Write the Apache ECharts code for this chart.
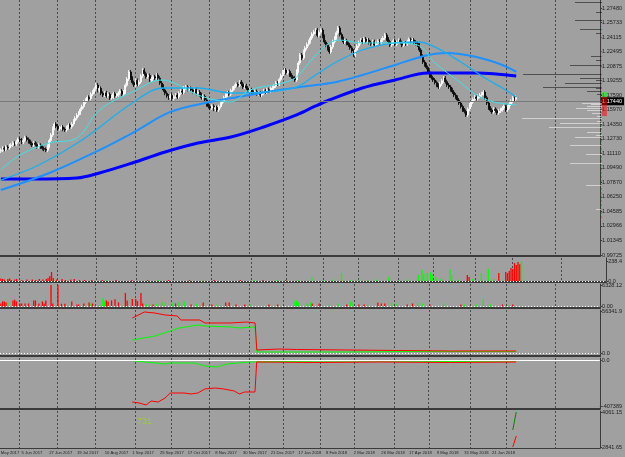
<!DOCTYPE html>
<html><head><meta charset="utf-8">
<script src="https://cdn.jsdelivr.net/npm/echarts@6/dist/echarts.min.js"></script>
<style>html,body{margin:0;padding:0;background:#a0a0a0;}#c{width:625px;height:457px;}</style>
</head><body><div id="c"></div><script>
// ---------------- DATA ----------------
const totalSlots = 347;               // bars + empty chart shift on the right
const firstOpen = 1.1140;
const closes = [
1.1150,1.1172,1.1160,1.1185,1.1178,1.1199,1.1208,
1.1230,1.1218,1.1245,1.1272,1.1265,
1.1240,1.1262,1.1290,
1.1270,1.1245,1.1226,1.1208,
1.1230,1.1215,1.1190,1.1205,1.1186,
1.1170,1.1160,1.1150,
1.1195,1.1260,1.1321,
1.1395,1.1444,
1.1420,1.1390,1.1400,
1.1410,1.1385,1.1377,
1.1405,1.1430,1.1412,1.1444,
1.1480,1.1510,1.1545,1.1568,
1.1610,1.1640,1.1690,1.1714,
1.1745,1.1730,1.1780,1.1804,
1.1840,1.1883,
1.1820,1.1845,1.1790,1.1770,
1.1795,1.1760,1.1778,1.1737,
1.1750,1.1785,1.1762,1.1770,
1.1790,1.1815,1.1780,1.1804,
1.1880,1.1950,1.2029,
1.1960,1.1910,1.1883,
1.1935,1.1890,1.1917,
1.1985,1.2051,
1.2010,1.1975,1.1990,1.1939,
1.1950,1.1975,1.1961,
1.1995,
1.1960,1.1905,1.1870,1.1827,
1.1790,1.1760,1.1737,
1.1765,1.1730,1.1752,1.1770,1.1748,
1.1790,1.1815,1.1800,1.1849,
1.1860,1.1835,1.1845,1.1827,
1.1810,1.1835,1.1790,1.1804,
1.1775,1.1740,1.1755,1.1714,
1.1660,1.1640,1.1624,
1.1645,1.1610,1.1630,1.1602,
1.1640,1.1669,
1.1705,1.1740,1.1770,
1.1795,1.1780,1.1820,1.1849,
1.1870,1.1890,1.1880,1.1917,
1.1895,1.1860,1.1875,1.1849,
1.1815,1.1830,1.1800,1.1793,
1.1810,1.1785,1.1795,1.1770,
1.1790,1.1818,1.1804,
1.1830,1.1815,1.1840,1.1849,
1.1870,1.1905,1.1894,
1.1945,1.1990,1.2030,1.2051,
1.2020,1.2035,1.1995,
1.1975,1.1960,1.1939,
1.2040,1.2130,1.2220,
1.2185,1.2260,1.2299,
1.2340,1.2370,1.2411,
1.2455,1.2480,1.2501,
1.2440,1.2475,1.2501,
1.2430,1.2366,
1.2330,1.2290,1.2254,
1.2310,1.2370,1.2411,
1.2470,1.2524,
1.2450,1.2405,1.2366,
1.2380,1.2350,1.2332,
1.2300,1.2265,1.2220,
1.2275,1.2320,1.2360,1.2389,
1.2365,1.2400,1.2375,1.2389,
1.2360,1.2345,1.2370,1.2332,
1.2350,1.2375,1.2360,1.2389,
1.2410,1.2445,
1.2400,1.2370,1.2332,
1.2350,1.2380,1.2340,1.2366,
1.2385,1.2360,1.2330,1.2355,1.2344,
1.2370,1.2395,1.2375,1.2389,
1.2365,1.2350,1.2332,
1.2275,1.2205,1.2141,
1.2110,1.2080,1.2029,
1.1990,1.1965,1.1939,
1.1910,1.1880,1.1860,
1.1895,1.1930,1.1962,
1.1920,1.1883,
1.1860,1.1830,1.1804,
1.1770,1.1745,1.1714,
1.1680,1.1640,1.1602,
1.1585,1.1546,
1.1610,1.1658,
1.1690,1.1720,1.1748,
1.1730,1.1755,1.1770,
1.1785,1.1804,
1.1740,1.1680,1.1624,
1.1600,1.1580,
1.1610,1.1595,1.1568,
1.1590,1.1605,1.1624,
1.1640,1.1602,
1.1635,1.1669,
1.1700,1.1737,
1.1720,1.1744
];
const wickSize = 0.0022;

// moving averages: [bar, price]
const maFast = [[0,1.0928],[11,1.1096],[28,1.1231],[44,1.1287],[57,1.1602],[76,1.1804],[93,1.1939],[114,1.1770],[124,1.1714],[133,1.1692],[144,1.1827],[163,1.1905],[171,1.1973],[181,1.2197],[190,1.2355],[196,1.2388],[209,1.2355],[228,1.2355],[241,1.2332],[251,1.2130],[266,1.1905],[275,1.1770],[285,1.1692],[298,1.1658]];
const maMid = [[0,1.0815],[22,1.0984],[47,1.1265],[76,1.1681],[94,1.1849],[114,1.1849],[133,1.1793],[152,1.1804],[171,1.1860],[182,1.1995],[194,1.2141],[209,1.2276],[228,1.2355],[242,1.2366],[252,1.2299],[266,1.2141],[280,1.1961],[290,1.1849],[298,1.1748]];
const maSlow = [[0,1.0703],[28,1.0894],[57,1.1152],[76,1.1343],[98,1.1580],[118,1.1681],[137,1.1748],[161,1.1827],[182,1.1883],[194,1.1917],[209,1.1995],[228,1.2108],[247,1.2220],[258,1.2242],[275,1.2197],[290,1.2108],[298,1.2029]];
const maLong = [[0,1.0826],[19,1.0826],[44,1.0838],[57,1.0894],[76,1.1006],[95,1.1130],[114,1.1231],[133,1.1298],[152,1.1411],[171,1.1546],[182,1.1647],[190,1.1714],[209,1.1849],[228,1.1939],[247,1.2018],[275,1.2018],[298,1.1984]];

// price axis tick labels (bottom -> top)
const priceTickLabels = ["0.99725","1.01345","1.02966","1.04585","1.06250","1.07870","1.09490","1.11110","1.12730","1.14350","1.15970","1.17590","1.19255","1.20875","1.22495","1.24115","1.25733","1.27480"];
const priceTickBottom = 0.99725, priceTickTop = 1.27480;

// date labels every 16 bars starting at bar 12
const firstDateLabel = "12 May 2017";
const dateLabels = ["5 Jun 2017","27 Jun 2017","19 Jul 2017","10 Aug 2017","1 Sep 2017","25 Sep 2017","17 Oct 2017","8 Nov 2017","30 Nov 2017","21 Dec 2017","17 Jan 2018","8 Feb 2018","2 Mar 2018","26 Mar 2018","17 Apr 2018","9 May 2018","31 May 2018","21 Jun 2018"];
const dateLabelStart = 12, dateLabelStep = 16;
const monthStartBars = [11,33,55,78,99,121,144,164,185,205,228,248,272,293,321];

// volume profile (price level, volume)
const profPrices = [1.2815,1.2703,1.2613,1.2512,1.2467,1.2209,1.2164,1.2108,1.2006,1.1961,1.1939,1.1905,1.1860,1.1849,1.1815,1.1782,
                    1.1681,1.1670,1.1647,1.1624,1.1602,1.1568,1.1534,1.1512,1.1478,1.1456,1.1411,1.1355,1.1321,1.1298,1.1209,1.1107,1.1006,1.0759,1.0489];
const profVolumes = [27,6,27,22,6,11,6,32,79,22,6,37,59,6,15,5,
                     20,11,15,26,15,10,5,80,5,42,53,15,6,27,32,16,32,16,6];
const bookBuy = [1.1804,1.1748], bookSell = [1.1748,1.1534];
const askRange = [1.2557,1.1804], bidRange = [1.1714,1.0366];

// pane 2 histogram
const p2Red = [[0,30],[1,24],[2,18],[4,24],[5,30],[6,12],[8,18],[9,24],[12,12],[15,18],[18,18],[20,12],[22,24],[24,18],[26,24],[27,36],[28,60],[29,107],[30,36],[32,18],[35,24],[37,12],[40,18],[42,24],[45,12],[48,12],[52,12],[58,12],[66,12],[75,12],[84,12],[96,12],[108,12],[122,12],[137,12],[150,12],[163,12],[267,71],[268,48],[285,95],[289,107],[290,95],[291,119],[292,155],[293,143],[294,214],[295,190],[296,226],[297,200]];
const p2Green = [[60,12],[90,12],[116,12],[145,12],[158,12],[170,12],[178,48],[185,12],[190,18],[195,95],[200,12],[205,18],[210,12],[215,18],[222,48],[228,12],[233,18],[239,71],[241,131],[242,83],[244,95],[246,107],[247,71],[249,48],[252,24],[257,143],[258,71],[262,18],[270,24],[275,95],[279,143],[282,24],[298,238.4]];
// pane 3 histogram
const p3Red = [[0,900],[1,1500],[2,1500],[3,1200],[7,1800],[8,2000],[9,1500],[11,900],[12,900],[14,900],[16,900],[19,1800],[20,1800],[22,900],[24,1500],[25,900],[26,1800],[29,6328],[30,900],[33,6328],[35,800],[37,800],[41,1500],[44,600],[45,600],[48,900],[51,1200],[53,900],[61,1800],[62,1500],[64,1800],[66,2100],[68,1200],[72,4000],[73,1800],[76,2200],[78,2200],[79,1600],[81,4000],[82,900],[88,600],[101,900],[110,600],[117,1200],[122,600],[130,1200],[132,1200],[136,600],[141,600],[155,600],[160,600],[180,900],[184,900],[200,600],[207,600],[210,600],[218,1200],[220,900],[222,900],[235,600],[238,900],[248,600],[266,600],[290,600],[296,600]];
const p3Green = [[4,1200],[52,900],[57,500],[59,2500],[60,1500],[84,700],[86,600],[90,900],[93,1500],[95,1200],[99,1200],[103,1200],[106,1500],[113,900],[125,600],[144,600],[170,1500],[171,1800],[172,1200],[177,900],[179,1200],[190,600],[195,900],[202,1500],[203,1200],[212,600],[226,1200],[229,900],[241,1200],[244,900],[256,900],[268,600],[275,600],[279,2200],[283,600],[293,600]];
// pane 4 lines
const p4Red = [[76,46950],[83,55000],[89,53660],[95,50980],[102,49640],[104,44270],[115,44270],[118,40250],[133,40250],[142,41590],[147,40250],[148,4025],[161,5366],[171,4695],[200,4025],[230,3354],[260,2683],[298,2683]];
const p4Green = [[76,17440],[89,22800],[98,29510],[103,33540],[114,37560],[118,36220],[133,34880],[138,33540],[147,34880],[148,1341],[200,1341],[240,2012],[298,2012]];
// pane 5 lines
const p5Green = [[76,-6200],[95,-35420],[98,-26570],[112,-26570],[118,-53140],[125,-61990],[131,-35420],[137,-26570],[144,-17710],[148,-17710],[183,-8856],[220,-8856],[260,-13280],[298,-8856]];
const p5Red = [[76,-371950],[80,-380800],[84,-398500],[87,-363100],[91,-371950],[95,-336500],[98,-292250],[106,-292250],[110,-301100],[114,-292250],[118,-256800],[124,-248000],[129,-256800],[135,-274500],[138,-301100],[141,-283400],[147,-283400],[148,-17710],[183,-22140],[220,-17710],[260,-22140],[298,-17710]];
const p5Pink = [[160,-4400],[200,-6600],[240,-4400],[298,-6600]];
// pane 6
const p6Green = [[296,3434],[298,4061.15]];
const p6Red = [[296,2841.65],[298,3225]];
const p6Text = "731";

// pane axis labels
const paneTicks = [
  {values:[0,238.4], labels:["0.0","238.4"]},
  {values:[0,6328.12], labels:["0.00","6328.12"]},
  {values:[0,56341.9], labels:["0.0","56341.9"]},
  {values:[-407389,0], labels:["-407389","0.0"]},
  {values:[2841.65,4061.15], labels:["2841.65","4061.15"]}
];

// ---------------- CHART ----------------
const FONT = 'Liberation Sans';
const cats = Array.from({length: totalSlots}, (_, i) => i);
const ohlc = closes.map((c, i) => {
  const o = i ? closes[i-1] : firstOpen;
  return [o, c, Math.min(o, c) - wickSize, Math.max(o, c) + wickSize];
});
const bid = closes[closes.length - 1];
const priceTickValues = priceTickLabels.map((_, k) => priceTickBottom + k * (priceTickTop - priceTickBottom) / (priceTickLabels.length - 1));

const gridsPx = [
  {top:0, height:256},
  {top:258, height:24},
  {top:284, height:24},
  {top:310, height:46},
  {top:358, height:51},
  {top:411, height:37}
];
const yRanges = [
  [0.99612, 1.28379],
  [-11.92, 274.2],
  [-441, 6622],
  [-4024, 57683],
  [-433957, 17712],
  [2806.8, 4096]
];
const grid = gridsPx.map(g => ({left:0, right:18, top:g.top, height:g.height}));
grid.push({left:0, right:18, top:0, height:256});

const xAxis = gridsPx.map((g, gi) => ({
  type:'category', gridIndex:gi, data:cats, boundaryGap:true,
  axisLine:{show:true, onZero:false, lineStyle:{color:'#3a3a3a', width: gi === 5 ? 1 : 2}},
  axisTick:{show:false},
  axisLabel: gi === 5 ? {
    show:true, interval:(i) => i >= dateLabelStart && (i - dateLabelStart) % dateLabelStep === 0 && (i - dateLabelStart) / dateLabelStep < dateLabels.length,
    formatter:(v, i) => dateLabels[(i - dateLabelStart) / dateLabelStep] || '',
    align:'left', fontSize:4.2, color:'#1e1e1e', margin:3, fontFamily:FONT
  } : {show:false},
  splitLine:{show:true, interval:(i) => monthStartBars.indexOf(i) >= 0, lineStyle:{color:'#4a4a4a', type:[2,2], width:1}}
}));
xAxis.push({type:'value', gridIndex:6, min:0, max:607, inverse:true, show:false});

const yAxis = yRanges.map((r, gi) => {
  const vals = gi === 0 ? priceTickValues : paneTicks[gi-1].values;
  const labs = gi === 0 ? priceTickLabels : paneTicks[gi-1].labels;
  return {
    type:'value', gridIndex:gi, position:'right', min:r[0], max:r[1], scale:true,
    axisLine:{show:true, lineStyle:{color:'#3a3a3a', width:1}},
    axisTick:{show:true, customValues:vals, length:2, lineStyle:{color:'#3a3a3a'}},
    axisLabel:{show:true, customValues:vals, fontSize:5.5, color:'#1e1e1e', margin:2, fontFamily:FONT,
      formatter:(v) => { let best = 0; vals.forEach((x, k) => { if (Math.abs(x - v) < Math.abs(vals[best] - v)) best = k; }); return labs[best]; }},
    splitLine:{show:false}
  };
});
yAxis.push({type:'value', gridIndex:6, min:yRanges[0][0], max:yRanges[0][1], show:false});

const maLine = (data, color, width, z) => ({type:'line', xAxisIndex:0, yAxisIndex:0, data, symbol:'none', smooth:0.35, lineStyle:{color, width}, z, silent:true});
const histo = (gi, data, color) => ({type:'bar', xAxisIndex:gi, yAxisIndex:gi, data, barWidth:1.3, barGap:'-100%', itemStyle:{color}, silent:true});
const pline = (gi, data, color, width) => ({type:'line', xAxisIndex:gi, yAxisIndex:gi, data, symbol:'none', lineStyle:{color, width:width||1}, silent:true});
const levelLine = (type) => ({silent:true, symbol:'none', label:{show:false}, lineStyle:{color:'#ffffff', type, width:1}, data:[{yAxis:0}]});

const profLines = profPrices.map((p, k) => ({coords:[[5, p], [5 + profVolumes[k], p]], lineStyle:{color: p > bid ? '#000000' : '#ffffff', width:1}}));
profLines.push({coords:[[2.5, bookBuy[0]], [2.5, bookBuy[1]]], lineStyle:{color:'#00ff00', width:5}});
profLines.push({coords:[[2.5, bookSell[0]], [2.5, bookSell[1]]], lineStyle:{color:'#ff0000', width:5}});
profLines.push({coords:[[5.5, askRange[0]], [5.5, askRange[1]]], lineStyle:{color:'#33dd33', width:1}});
profLines.push({coords:[[5.5, bidRange[0]], [5.5, bidRange[1]]], lineStyle:{color:'#dd3333', width:1, type:[2,2]}});

const series = [
  {type:'candlestick', xAxisIndex:0, yAxisIndex:0, data:ohlc, barWidth:1.5,
   itemStyle:{color:'#ffffff', color0:'#000000', borderColor:'#ffffff', borderColor0:'#000000', borderWidth:0.8},
   markLine:{silent:true, symbol:'none', lineStyle:{color:'#7a7a7a', type:'solid', width:1},
     label:{show:true, position:'end', formatter: bid.toFixed(5), backgroundColor:'#000000', color:'#ffffff', fontSize:5.5, fontFamily:FONT, padding:[1,2,1,1], distance:1},
     data:[{yAxis:bid}]}, z:3},
  maLine(maLong, '#0000ff', 3, 4),
  maLine(maSlow, '#1e90ff', 2, 5),
  maLine(maMid, '#1aaef0', 1.3, 6),
  maLine(maFast, '#40e0e8', 1, 7),
  {type:'lines', coordinateSystem:'cartesian2d', xAxisIndex:6, yAxisIndex:6, data:profLines, silent:true, z:8},
  Object.assign(histo(1, p2Red, '#ff0000'), {markLine: levelLine([1,2])}),
  histo(1, p2Green, '#00ff00'),
  Object.assign(histo(2, p3Red, '#ff0000'), {markLine: levelLine([1,2])}),
  histo(2, p3Green, '#00ff00'),
  Object.assign(pline(3, p4Green, '#00ff00'), {markLine: levelLine([1,2])}),
  pline(3, p4Red, '#ff0000'),
  Object.assign(pline(4, p5Pink, '#ff9090'), {markLine: levelLine('solid')}),
  pline(4, p5Green, '#00ff00'),
  pline(4, p5Red, '#ff0000'),
  pline(5, p6Green, '#008800'),
  pline(5, p6Red, '#ff0000')
];

const chart = echarts.init(document.getElementById('c'), null, {renderer:'canvas'});
chart.setOption({
  backgroundColor:'#a0a0a0',
  animation:false,
  textStyle:{fontFamily:FONT},
  grid, xAxis, yAxis, series,
  graphic:[
    {type:'text', left:-5, top:451, silent:true, style:{text:firstDateLabel, fontSize:4.2, fill:'#1e1e1e', fontFamily:FONT}},
    {type:'text', left:137, top:417, silent:true, style:{text:p6Text, fontSize:9, fill:'#9acd32', fontFamily:FONT}}
  ]
});
</script></body></html>
